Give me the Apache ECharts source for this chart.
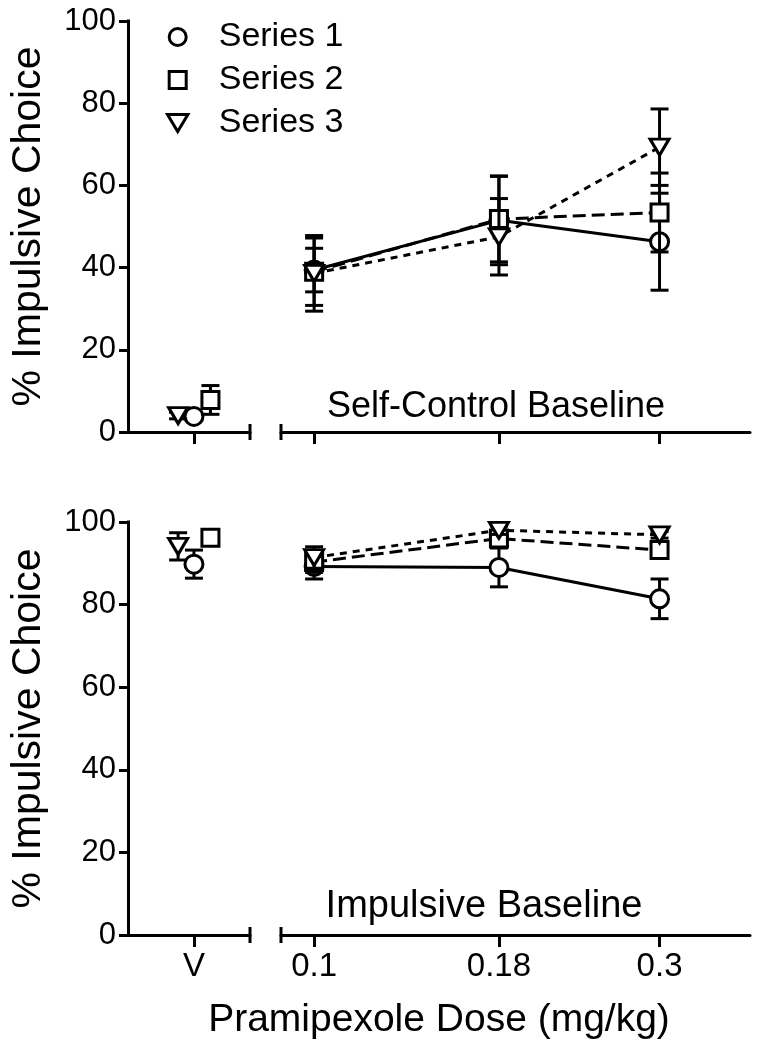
<!DOCTYPE html>
<html><head><meta charset="utf-8">
<script src="https://cdn.jsdelivr.net/npm/echarts@6/dist/echarts.min.js"></script>
<style>html,body{margin:0;padding:0;background:#fff}#c{width:760px;height:1050px}</style>
</head><body><div id="c"></div>
<script>
// ---------------- data ----------------
const seriesNames = ['Series 1', 'Series 2', 'Series 3'];
const doses = [0.1, 0.18, 0.3];
const doseLabels = ['0.1', '0.18', '0.3'];
const vehicleLabel = 'V';
const yTicks = [0, 20, 40, 60, 80, 100];
const panelLabels = ['Self-Control Baseline', 'Impulsive Baseline'];
const yTitle = '% Impulsive Choice';
const xTitle = 'Pramipexole Dose (mg/kg)';

// Self-control baseline (top panel)
const scVehicle    = [3.8, 7.8, 4.0];
const scVehicleSem = [0.8, 3.5, 0.8];
const scS1 = [39.4, 51.5, 46.3]; const scS1Sem = [5.3, 10.8, 11.8];
const scS2 = [39.0, 51.8, 53.4]; const scS2Sem = [8.2, 10.4, 9.6];
const scS3 = [38.6, 47.5, 69.3]; const scS3Sem = [9.2, 9.3, 9.3];

// Impulsive baseline (bottom panel)
const imVehicle    = [89.8, 96.2, 94.1];
const imVehicleSem = [3.4, 1.0, 3.3];
const imS1 = [89.2, 89.0, 81.4]; const imS1Sem = [3.0, 4.7, 4.8];
const imS2 = [90.3, 96.0, 93.2]; const imS2Sem = [2.5, 1.5, 1.5];
const imS3 = [91.4, 98.0, 96.9]; const imS3Sem = [2.6, 1.0, 0.8];

// ---------------- layout / style ----------------
const FONT = '"Liberation Sans", Arial, Helvetica, sans-serif';
const SYM = ['circle', 'rect', 'triangle'];
const SYM_SIZE = [18, 17, [19, 16]];
const SYM_ROT = [0, 0, 180];
const DASH = ['solid', [13, 6], [7, 6]];
const JIT = [0, 0.25, -0.24];
const LEGEND_ICONS = ['circle', 'path://M0,0H10V10H0Z', 'path://M0,0L12,0L6,10Z'];

const panels = [
  { vehicle: scVehicle, vehicleSem: scVehicleSem, vals: [scS1, scS2, scS3], sems: [scS1Sem, scS2Sem, scS3Sem] },
  { vehicle: imVehicle, vehicleSem: imVehicleSem, vals: [imS1, imS2, imS3], sems: [imS1Sem, imS2Sem, imS3Sem] }
];

const logDoses = doses.map(d => Math.log10(d));
const grids = [
  { left: 128, top: 21, width: 122, height: 411 },
  { left: 281, top: 21, width: 469, height: 411 },
  { left: 128, top: 522, width: 122, height: 413 },
  { left: 281, top: 522, width: 469, height: 413 }
].map(g => Object.assign(g, { outerBoundsMode: 'none', containLabel: false }));

const axLine = (sym) => ({ show: true, onZero: false, lineStyle: { color: '#000', width: 3 }, symbol: sym, symbolSize: [16, 3] });
const tick = (len, vals) => { const t = { show: true, inside: false, length: len, lineStyle: { color: '#000', width: 3 } }; if (vals) t.customValues = vals; return t; };

const xAxis = [], yAxis = [];
[0, 1].forEach(p => {
  xAxis.push({
    gridIndex: 2 * p, type: 'value', min: 0, max: 1.85,
    axisLine: axLine(['none', 'rect']), axisTick: tick(12, [1]),
    axisLabel: { show: p === 1, customValues: [1], formatter: () => vehicleLabel, fontSize: 33, color: '#000', fontFamily: FONT, margin: 15 },
    splitLine: { show: false }
  });
  xAxis.push({
    gridIndex: 2 * p + 1, type: 'value', min: Math.log10(0.09), max: Math.log10(0.4),
    axisLine: axLine(['rect', 'none']), axisTick: tick(12, logDoses),
    axisLabel: {
      show: p === 1, customValues: logDoses, fontSize: 33, color: '#000', fontFamily: FONT, margin: 15,
      formatter: v => { let bi = 0; logDoses.forEach((l, i) => { if (Math.abs(l - v) < Math.abs(logDoses[bi] - v)) bi = i; }); return doseLabels[bi]; }
    },
    splitLine: { show: false }
  });
  yAxis.push({
    gridIndex: 2 * p, type: 'value', min: yTicks[0], max: yTicks[yTicks.length - 1], interval: yTicks[1] - yTicks[0],
    name: yTitle, nameLocation: 'middle', nameGap: 79,
    nameTextStyle: { fontSize: 41, color: '#000', fontFamily: FONT },
    axisLine: { show: true, lineStyle: { color: '#000', width: 3, cap: 'square' } }, axisTick: tick(9),
    axisLabel: { fontSize: 31, color: '#000', fontFamily: FONT, margin: 12 },
    splitLine: { show: false }
  });
  yAxis.push({ gridIndex: 2 * p + 1, type: 'value', min: 0, max: 100, show: false });
});

function errRender(params, api) {
  const x = api.value(0), y = api.value(1), e = api.value(2);
  const t = api.coord([x, y + e]), b = api.coord([x, y - e]);
  const hw = 9, st = { stroke: '#000', lineWidth: 3 };
  return { type: 'group', children: [
    { type: 'line', shape: { x1: t[0], y1: t[1], x2: b[0], y2: b[1] }, style: st },
    { type: 'line', shape: { x1: t[0] - hw, y1: t[1], x2: t[0] + hw, y2: t[1] }, style: st },
    { type: 'line', shape: { x1: b[0] - hw, y1: b[1], x2: b[0] + hw, y2: b[1] }, style: st }
  ] };
}

const series = [];
panels.forEach((pn, p) => {
  [0, 1, 2].forEach(k => {
    const mark = { symbol: SYM[k], symbolSize: SYM_SIZE[k], symbolRotate: SYM_ROT[k],
      itemStyle: { color: '#fff', borderColor: '#000', borderWidth: 3, opacity: 1 } };
    series.push({ type: 'custom', xAxisIndex: 2 * p, yAxisIndex: 2 * p, z: 2 + 2 * k, clip: false, silent: true,
      renderItem: errRender, encode: { x: 0, y: 1 },
      data: [[1 + JIT[k], pn.vehicle[k], pn.vehicleSem[k]]] });
    series.push(Object.assign({ type: 'scatter', xAxisIndex: 2 * p, yAxisIndex: 2 * p, z: 3 + 2 * k,
      data: [[1 + JIT[k], pn.vehicle[k]]] }, mark));
    series.push({ type: 'custom', xAxisIndex: 2 * p + 1, yAxisIndex: 2 * p + 1, z: 2 + 2 * k, clip: false, silent: true,
      renderItem: errRender, encode: { x: 0, y: 1 },
      data: doses.map((d, i) => [Math.log10(d), pn.vals[k][i], pn.sems[k][i]]) });
    series.push(Object.assign({ type: 'line', name: seriesNames[k], xAxisIndex: 2 * p + 1, yAxisIndex: 2 * p + 1, z: 3 + 2 * k,
      showSymbol: true, showAllSymbol: true,
      lineStyle: { color: '#000', width: 3, type: DASH[k] },
      data: doses.map((d, i) => [Math.log10(d), pn.vals[k][i]]) }, mark));
  });
});

const option = {
  animation: false,
  backgroundColor: '#fff',
  textStyle: { fontFamily: FONT },
  grid: grids, xAxis, yAxis, series,
  legend: {
    orient: 'vertical', left: 166, top: 20, padding: 0, itemWidth: 72, itemHeight: 17, itemGap: 9,
    selectedMode: false,
    data: seriesNames.map((n, k) => ({ name: n, icon: LEGEND_ICONS[k] })),
    itemStyle: { color: '#fff', borderColor: '#000', borderWidth: 3 },
    lineStyle: { width: 0 },
    textStyle: { fontSize: 34, color: '#000', fontFamily: FONT, lineHeight: 34 }
  },
  graphic: [
    { type: 'text', x: 496, y: 407, style: { text: panelLabels[0], font: '36px ' + FONT, fill: '#000', align: 'center', verticalAlign: 'middle', textAlign: 'center', textVerticalAlign: 'middle' } },
    { type: 'text', x: 484, y: 907, style: { text: panelLabels[1], font: '38px ' + FONT, fill: '#000', align: 'center', verticalAlign: 'middle', textAlign: 'center', textVerticalAlign: 'middle' } },
    { type: 'text', x: 439, y: 1020, style: { text: xTitle, font: '39px ' + FONT, fill: '#000', align: 'center', verticalAlign: 'middle', textAlign: 'center', textVerticalAlign: 'middle' } }
  ]
};
const chart = echarts.init(document.getElementById('c'), null, { renderer: 'canvas' });
chart.setOption(option);
</script></body></html>
